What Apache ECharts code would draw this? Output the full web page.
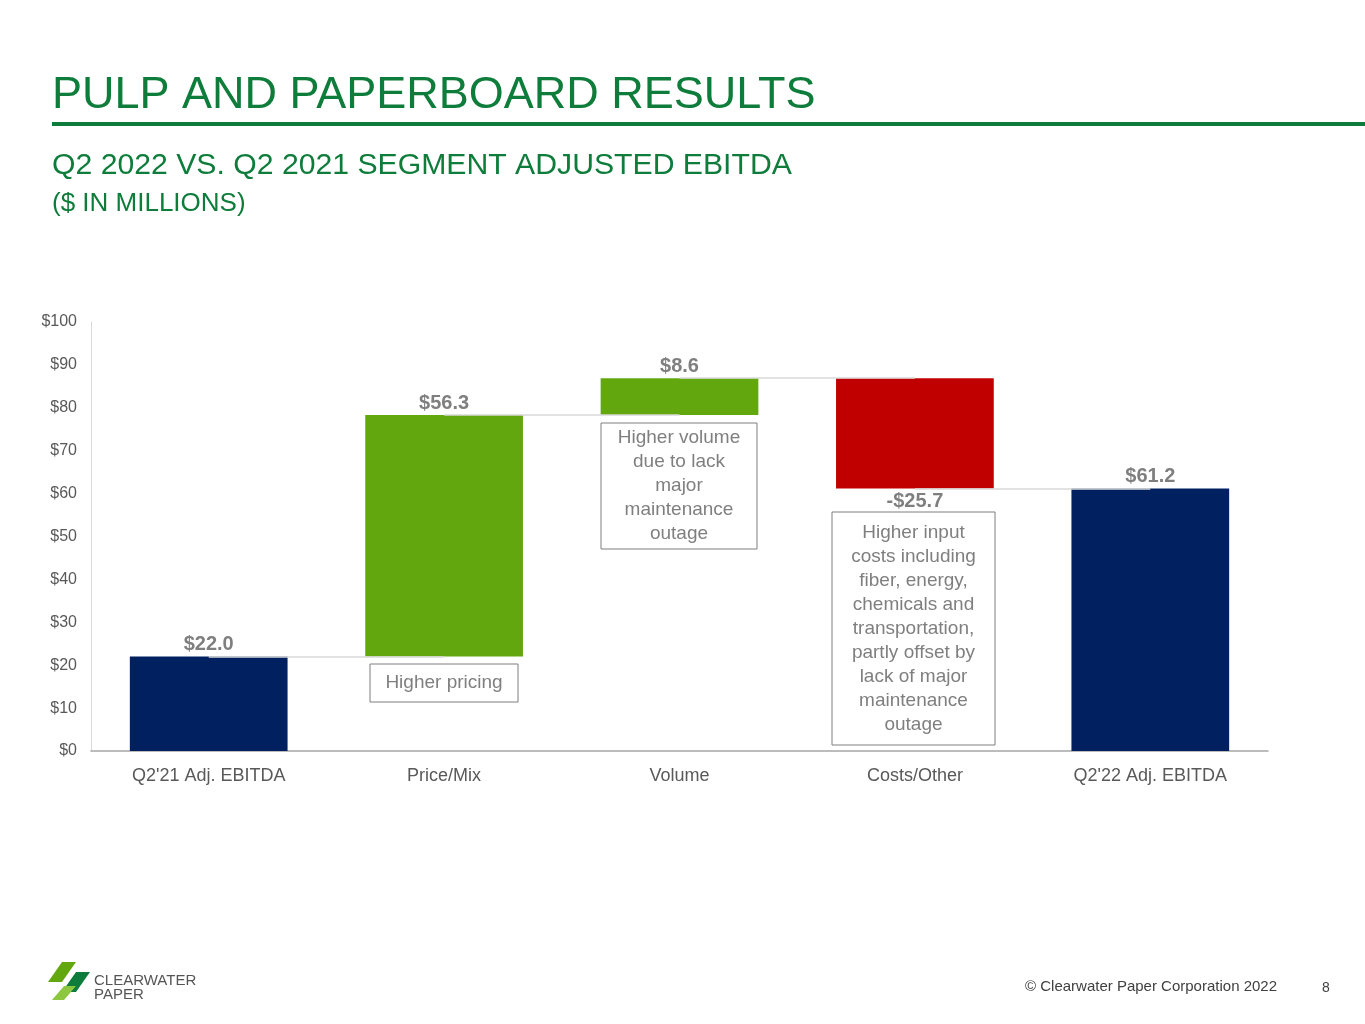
<!DOCTYPE html>
<html>
<head>
<meta charset="utf-8">
<script src="https://cdn.jsdelivr.net/npm/echarts@6/dist/echarts.min.js"></script>
<style>
  html, body { margin: 0; padding: 0; background: #fff; }
  #chart { width: 1365px; height: 1024px; }
</style>
</head>
<body>
<div id="chart"></div>
<script>
const categories = ["Q2'21 Adj. EBITDA", "Price/Mix", "Volume", "Costs/Other", "Q2'22 Adj. EBITDA"];
const deltas = [22.0, 56.3, 8.6, -25.7, 61.2];
const valueLabels = ["$22.0", "$56.3", "$8.6", "-$25.7", "$61.2"];
const yTicks = [0, 10, 20, 30, 40, 50, 60, 70, 80, 90, 100];

const navy = "#002060", green = "#63a70f", red = "#c00000", gray = "#7f7f7f";

// 瀑布图: 透明底座 + 实际柱
const base = [], bars = [], levels = [];
let running = 0;
deltas.forEach((d, i) => {
  const total = i === 0 || i === deltas.length - 1;
  if (total) {
    base.push(0);
    bars.push({ value: d, itemStyle: { color: navy } });
    running = d;
  } else {
    const lo = d >= 0 ? running : running + d;
    base.push(lo);
    bars.push({ value: Math.abs(d), itemStyle: { color: d >= 0 ? green : red } });
    running += d;
  }
  levels.push(running);
});

// 连接线
const connectors = [];
for (let i = 0; i < categories.length - 1; i++) {
  connectors.push([
    { coord: [i, levels[i]] },
    { coord: [i + 1, levels[i]] }
  ]);
}

const chart = echarts.init(document.getElementById("chart"));
const titleGreen = "#0e7c3a";

function box(x, y, w, h, text) {
  return [
    { type: "rect", shape: { x, y, width: w, height: h }, style: { fill: "#fff", stroke: "#7f7f7f", lineWidth: 1 }, z: 100 },
    { type: "text", x: x + w / 2, y: y + h / 2, z: 101,
      style: { text, fill: "#7f7f7f", font: "19px Arial, 'Liberation Sans'", align: "center", verticalAlign: "middle", lineHeight: 24 } }
  ];
}

const option = {
  animation: false,
  grid: { left: 91, right: 97, top: 322, height: 429 },
  xAxis: {
    type: "category",
    data: categories,
    axisLine: { lineStyle: { color: "#a6a6a6", width: 1.5 } },
    axisTick: { show: false },
    axisLabel: { color: "#595959", fontSize: 18, fontFamily: "Arial, 'Liberation Sans'", margin: 16 }
  },
  yAxis: {
    type: "value",
    min: 0, max: 100, interval: 10,
    axisLine: { show: true, lineStyle: { color: "#d9d9d9" } },
    splitLine: { show: false },
    axisLabel: {
      color: "#595959", fontSize: 16, fontFamily: "Arial, 'Liberation Sans'", margin: 14,
      formatter: v => yTicks.includes(v) ? "$" + v : ""
    }
  },
  series: [
    {
      type: "bar", stack: "w", data: base, barWidth: "67%",
      itemStyle: { color: "transparent" }, silent: true, z: 1,
      markLine: {
        symbol: "none", silent: true, label: { show: false },
        lineStyle: { color: "#d9d9d9", type: "solid", width: 1.5 },
        data: connectors
      }
    },
    {
      type: "bar", stack: "w", data: bars, barWidth: "67%", z: 3,
      label: {
        show: true, position: "top", distance: 2,
        color: gray, fontSize: 20, fontWeight: "bold", fontFamily: "Arial, 'Liberation Sans'",
        formatter: p => valueLabels[p.dataIndex]
      },
      labelLayout: p => p.dataIndex === 3
        ? { x: p.rect.x + p.rect.width / 2, y: p.rect.y + p.rect.height + 13, align: "center", verticalAlign: "middle" }
        : {}
    }
  ],
  graphic: [
    { type: "text", left: 52, top: 73, style: { text: "PULP AND PAPERBOARD RESULTS", fill: titleGreen, font: "45px Arial, 'Liberation Sans'" } },
    { type: "rect", shape: { x: 52, y: 122, width: 1313, height: 4 }, style: { fill: titleGreen } },
    { type: "text", left: 52, top: 151, style: { text: "Q2 2022 VS. Q2 2021 SEGMENT ADJUSTED EBITDA", fill: titleGreen, font: "30.2px Arial, 'Liberation Sans'" } },
    { type: "text", left: 52, top: 191, style: { text: "($ IN MILLIONS)", fill: titleGreen, font: "26px Arial, 'Liberation Sans'" } },
    ...box(370, 664, 148, 38, "Higher pricing"),
    ...box(601, 423, 156, 126, "Higher volume\ndue to lack\nmajor\nmaintenance\noutage"),
    ...box(832, 512, 163, 233, "Higher input\ncosts including\nfiber, energy,\nchemicals and\ntransportation,\npartly offset by\nlack of major\nmaintenance\noutage"),
    { type: "polygon", shape: { points: [[62, 962], [76, 962], [62, 982], [48, 982]] }, style: { fill: "#63a70f" } },
    { type: "polygon", shape: { points: [[76, 972], [90, 972], [76, 992], [62, 992]] }, style: { fill: "#0e7c3a" } },
    { type: "polygon", shape: { points: [[64, 986], [76, 986], [64, 1000], [52, 1000]] }, style: { fill: "#8dc63f" } },
    { type: "text", left: 94, top: 973, style: { text: "CLEARWATER", fill: "#555", font: "15px Arial, 'Liberation Sans'" } },
    { type: "text", left: 94, top: 987, style: { text: "PAPER", fill: "#555", font: "15px Arial, 'Liberation Sans'" } },
    { type: "text", left: 1025, top: 979, style: { text: "© Clearwater Paper Corporation 2022", fill: "#404040", font: "15px Arial, 'Liberation Sans'" } },
    { type: "text", left: 1322, top: 981, style: { text: "8", fill: "#404040", font: "14px Arial, 'Liberation Sans'" } }
  ]
};
chart.setOption(option);
window.addEventListener("resize", function () {
  chart.resize();
});
</script>
</body>
</html>
